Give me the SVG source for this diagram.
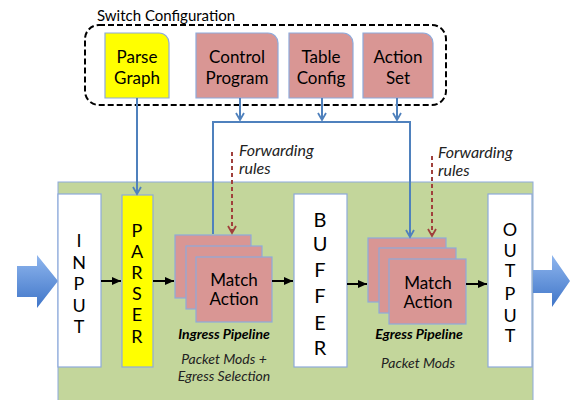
<svg xmlns="http://www.w3.org/2000/svg" width="573" height="400" viewBox="0 0 573 400">
<defs>
<style>
.t{font-family:Lato,"Open Sans","Liberation Sans",sans-serif;fill:#000;text-anchor:middle}
.cfg{font-size:17px}
.v{font-size:18px}
.it{font-style:italic;font-size:14px;fill:#222}
.fw{font-style:italic;font-size:16px;fill:#222;text-anchor:start}
.bi{font-style:italic;font-weight:bold;font-size:14px}
.box{stroke:#8eaadb;stroke-width:1.2}
.pink{fill:#d99694}
.wh{fill:#fff}
.yl{fill:#ffff00}
.blue{stroke:#4f81bd;stroke-width:2;fill:none}
.blk{stroke:#000;stroke-width:2;fill:none}
.red{stroke:#a0403c;stroke-width:2;fill:none;stroke-dasharray:4,3}
</style>
<marker id="ab" markerWidth="10" markerHeight="10" refX="8" refY="5" orient="auto" markerUnits="userSpaceOnUse">
<path d="M1,1 L8,5 L1,9" fill="none" stroke="#4f81bd" stroke-width="1.8"/>
</marker>
<marker id="ak" markerWidth="10" markerHeight="10" refX="9" refY="5" orient="auto" markerUnits="userSpaceOnUse">
<path d="M0,1 L9,5 L0,9 Z" fill="#000"/>
</marker>
<marker id="ar" markerWidth="10" markerHeight="10" refX="8" refY="5" orient="auto" markerUnits="userSpaceOnUse">
<path d="M1,1 L8,5 L1,9" fill="none" stroke="#a0403c" stroke-width="1.8"/>
</marker>
<linearGradient id="gb" x1="0" y1="0" x2="0" y2="1">
<stop offset="0" stop-color="#8fb6ee"/>
<stop offset="1" stop-color="#3f75c8"/>
</linearGradient>
</defs>
<rect x="0" y="0" width="573" height="400" fill="#fff"/>

<g id="switch-config">
<rect x="85" y="25" width="361" height="80" rx="14" fill="none" stroke="#000" stroke-width="2" stroke-dasharray="6,3"/>
<text class="t" x="166" y="21" font-size="15">Switch Configuration</text>
</g>

<rect x="58" y="182" width="475" height="220" fill="#c3d69b" stroke="#8eaadb" stroke-width="1"/>

<g id="parse-graph">
<path class="box yl" d="M105,33 H159 A10,10 0 0 1 169,43 V98 H105 Z"/>
<text class="t cfg" x="137" y="63">Parse</text>
<text class="t cfg" x="137" y="84">Graph</text>
</g>
<g id="control-program">
<path class="box pink" d="M196,33 H268 A10,10 0 0 1 278,43 V98 H196 Z"/>
<text class="t cfg" x="237" y="63">Control</text>
<text class="t cfg" x="237" y="84">Program</text>
</g>
<g id="table-config">
<path class="box pink" d="M289,33 H343 A10,10 0 0 1 353,43 V98 H289 Z"/>
<text class="t cfg" x="321" y="63">Table</text>
<text class="t cfg" x="321" y="84">Config</text>
</g>
<g id="action-set">
<path class="box pink" d="M363,33 H423 A10,10 0 0 1 433,43 V98 H363 Z"/>
<text class="t cfg" x="398" y="63">Action</text>
<text class="t cfg" x="398" y="84">Set</text>
</g>

<g id="input-arrow">
<path d="M17,266 H37 V255 L58,281 L37,308 V297 H17 Z" fill="url(#gb)"/>
</g>
<g id="output-arrow">
<path d="M533,270 H552 V255 L570,281 L552,307 V293 H533 Z" fill="url(#gb)"/>
</g>

<g id="input">
<rect class="box wh" x="58" y="194" width="43" height="173"/>
<text class="t v" x="79" y="247">I</text>
<text class="t v" x="79" y="269">N</text>
<text class="t v" x="79" y="290">P</text>
<text class="t v" x="79" y="312">U</text>
<text class="t v" x="79" y="333">T</text>
</g>
<g id="parser">
<rect class="box yl" x="122" y="195" width="31" height="172"/>
<text class="t v" x="137" y="237">P</text>
<text class="t v" x="137" y="258">A</text>
<text class="t v" x="137" y="279">R</text>
<text class="t v" x="137" y="300">S</text>
<text class="t v" x="137" y="321">E</text>
<text class="t v" x="137" y="343">R</text>
</g>
<g id="ingress-pipeline">
<rect class="box pink" x="175" y="235" width="76" height="63"/>
<rect class="box pink" x="186" y="246" width="76" height="63"/>
<rect class="box pink" x="196" y="257" width="76" height="65"/>
<text class="t" x="234" y="286" font-size="17">Match</text>
<text class="t" x="234" y="305" font-size="17">Action</text>
<text class="t bi" x="224" y="339">Ingress Pipeline</text>
<text class="t it" x="224" y="364">Packet Mods +</text>
<text class="t it" x="224" y="381">Egress Selection</text>
</g>
<g id="buffer">
<rect class="box wh" x="294" y="194" width="53" height="173"/>
<text class="t" font-size="20" x="320" y="227">B</text>
<text class="t" font-size="20" x="320" y="251">U</text>
<text class="t" font-size="20" x="320" y="277">F</text>
<text class="t" font-size="20" x="320" y="303">F</text>
<text class="t" font-size="20" x="320" y="330">E</text>
<text class="t" font-size="20" x="320" y="355">R</text>
</g>
<g id="egress-pipeline">
<rect class="box pink" x="368" y="238" width="78" height="64"/>
<rect class="box pink" x="379" y="248" width="77" height="65"/>
<rect class="box pink" x="389" y="259" width="77" height="65"/>
<text class="t" x="428" y="289" font-size="17">Match</text>
<text class="t" x="428" y="308" font-size="17">Action</text>
<text class="t bi" x="419" y="339">Egress Pipeline</text>
<text class="t it" x="418" y="368">Packet Mods</text>
</g>
<g id="output">
<rect class="box wh" x="488" y="194" width="44" height="173"/>
<text class="t v" x="510" y="236">O</text>
<text class="t v" x="510" y="257">U</text>
<text class="t v" x="510" y="277">T</text>
<text class="t v" x="510" y="300">P</text>
<text class="t v" x="510" y="322">U</text>
<text class="t v" x="510" y="342">T</text>
</g>

<g id="forwarding-labels">
<text class="t fw" x="239" y="156">Forwarding</text>
<text class="t fw" x="239" y="174">rules</text>
<text class="t fw" x="438" y="158">Forwarding</text>
<text class="t fw" x="438" y="176">rules</text>
</g>

<g id="connectors">
<line class="blue" x1="137" y1="98" x2="137" y2="194" marker-end="url(#ab)"/>
<line class="blue" x1="240" y1="98" x2="240" y2="120" marker-end="url(#ab)"/>
<line class="blue" x1="322" y1="98" x2="322" y2="120" marker-end="url(#ab)"/>
<line class="blue" x1="397" y1="98" x2="397" y2="120" marker-end="url(#ab)"/>
<path class="blue" d="M213,234 V122 H410 V237" marker-end="url(#ab)"/>
<line class="red" x1="232" y1="152" x2="232" y2="233" marker-end="url(#ar)"/>
<line class="red" x1="432" y1="156" x2="432" y2="236" marker-end="url(#ar)"/>
<line class="blk" x1="101" y1="281" x2="121" y2="281" marker-end="url(#ak)"/>
<line class="blk" x1="153" y1="281" x2="174" y2="281" marker-end="url(#ak)"/>
<line class="blk" x1="272" y1="281" x2="293" y2="281" marker-end="url(#ak)"/>
<line class="blk" x1="347" y1="284" x2="367" y2="284" marker-end="url(#ak)"/>
<line class="blk" x1="466" y1="284" x2="487" y2="284" marker-end="url(#ak)"/>
</g>
</svg>
